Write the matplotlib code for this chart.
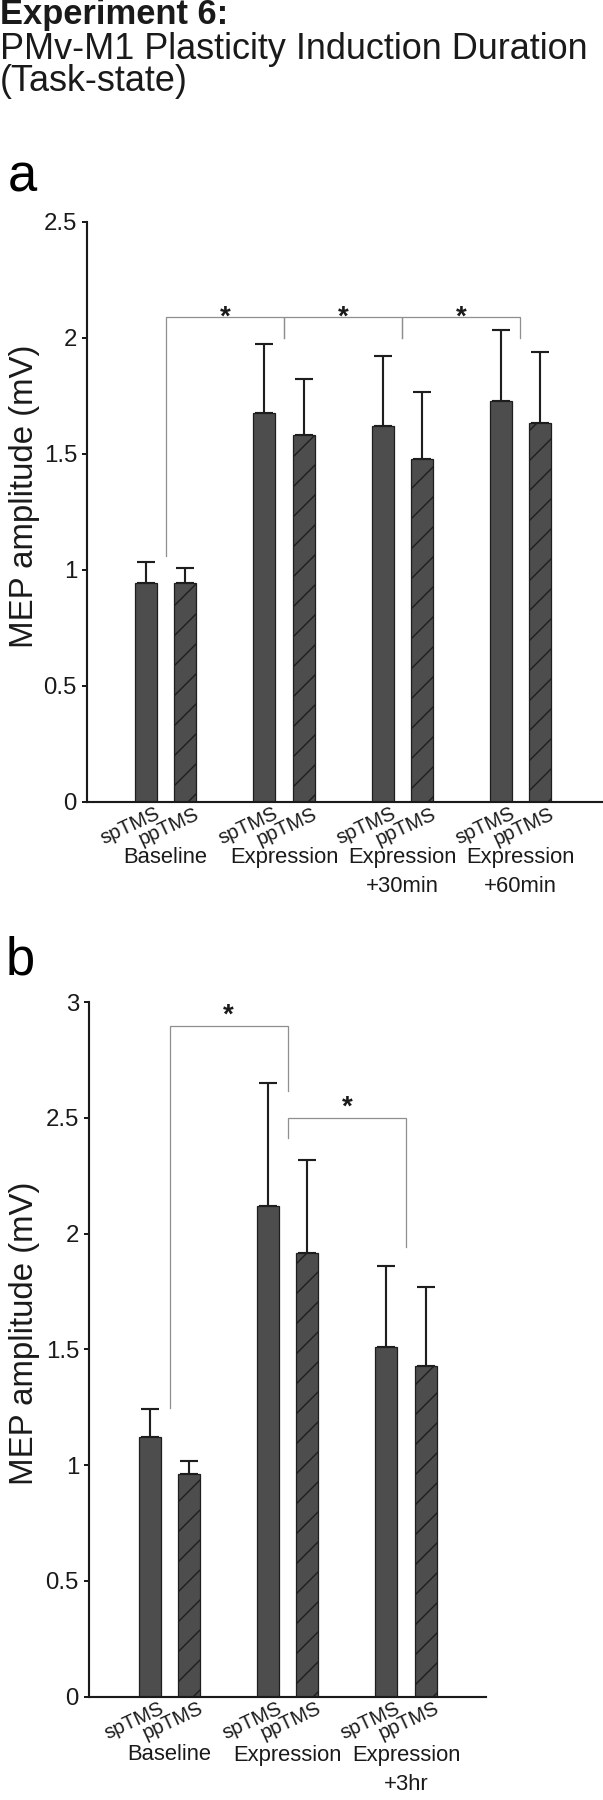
import matplotlib
matplotlib.use("Agg")
import matplotlib.pyplot as plt
import numpy as np
from matplotlib.ticker import FuncFormatter

plt.rcParams['font.family'] = ['Liberation Sans', 'DejaVu Sans']
plt.rcParams['hatch.linewidth'] = 0.55

# ---------------- data ----------------
groups_a = ["Baseline", "Expression", "Expression\n+30min", "Expression\n+60min"]
sp_a = [0.946, 1.677, 1.621, 1.729]
sp_err_a = [0.088, 0.297, 0.300, 0.307]
pp_a = [0.946, 1.584, 1.480, 1.634]
pp_err_a = [0.064, 0.240, 0.287, 0.305]

groups_b = ["Baseline", "Expression", "Expression\n+3hr"]
sp_b = [1.122, 2.117, 1.510]
sp_err_b = [0.122, 0.533, 0.349]
pp_b = [0.960, 1.917, 1.428]
pp_err_b = [0.057, 0.400, 0.339]

cond_labels = ["spTMS", "ppTMS"]
yticks_a = [0, 0.5, 1, 1.5, 2, 2.5]
yticks_b = [0, 0.5, 1, 1.5, 2, 2.5, 3]

# brackets: (x_start_group, x_end_group, y_top, y_left_end, y_right_end)
brackets_a = [(0, 1, 2.09, 1.06, 2.0), (1, 2, 2.09, 2.0, 2.0), (2, 3, 2.09, 2.0, 2.0)]
brackets_b = [(0, 1, 2.896, 1.245, 2.615), (1, 2, 2.5, 2.414, 1.94)]

# ---------------- figure ----------------
W, H, DPI = 603, 1800, 180
fig = plt.figure(figsize=(W / DPI, H / DPI), dpi=DPI)
PT = 72.0 / DPI  # points per pixel

BAR_COLOR = '#4d4d4d'
EDGE = '#1e1e1e'
BR_COLOR = '#8f8f8f'
OFF = 0.166
BW = 0.186


def panel(rect, xlim, ylim, yticks, groups, sp, sp_err, pp, pp_err, brackets,
          star_off_px, cat_off_px):
    ax = fig.add_axes(rect)
    x = np.arange(len(groups))
    ax.bar(x - OFF, sp, BW, color=BAR_COLOR, edgecolor=EDGE, linewidth=0.5, zorder=2)
    ax.bar(x + OFF, pp, BW, color=BAR_COLOR, edgecolor=EDGE, linewidth=0.5,
           hatch='//', zorder=2)
    for xs, v, e in ((x - OFF, sp, sp_err), (x + OFF, pp, pp_err)):
        ax.errorbar(xs, v, yerr=[np.zeros(len(v)), e], fmt='none', ecolor=EDGE,
                    elinewidth=0.85, capsize=3.6, capthick=0.85, zorder=1)
    ax.set_xlim(*xlim)
    ax.set_ylim(*ylim)
    ax.set_yticks(yticks)
    ax.yaxis.set_major_formatter(FuncFormatter(lambda v, p: '%g' % v))
    ax.tick_params(axis='y', direction='out', length=2.0, width=0.8, pad=2.0,
                   labelsize=9.6, colors='#1a1a1a')
    ax.set_xticks([])
    for s in ('top', 'right'):
        ax.spines[s].set_visible(False)
    for s in ('left', 'bottom'):
        ax.spines[s].set_linewidth(0.85)
        ax.spines[s].set_color('#1a1a1a')
    # condition labels
    for gi in range(len(groups)):
        for k, dx in enumerate((-OFF, OFF)):
            ax.annotate(cond_labels[k], xy=(gi + dx, 0), xytext=(15 * PT, -16 * PT),
                        textcoords='offset points', ha='right', va='baseline',
                        rotation=25, rotation_mode='anchor', fontsize=8.0,
                        color='#1a1a1a', annotation_clip=False)
        ax.annotate(groups[gi], xy=(gi, 0), xytext=(0, -cat_off_px * PT),
                    textcoords='offset points', ha='center', va='top',
                    multialignment='center', linespacing=1.5, fontsize=8.8,
                    color='#1a1a1a', annotation_clip=False)
    # significance brackets
    for g0, g1, yt, yl, yr in brackets:
        ax.plot([g0, g0, g1, g1], [yl, yt, yt, yr], color=BR_COLOR, lw=0.5,
                clip_on=False, zorder=3, solid_joinstyle='miter')
        ax.annotate('*', xy=((g0 + g1) / 2, yt), xytext=(0, star_off_px * PT),
                    textcoords='offset points', ha='center', va='baseline',
                    fontsize=11, fontweight='bold', color='#1a1a1a',
                    annotation_clip=False)
    return ax


ax_a = panel([87 / W, 1 - 802 / H, 516 / W, 580 / H], (-0.666, 3.698), (0, 2.5),
             yticks_a, groups_a, sp_a, sp_err_a, pp_a, pp_err_a, brackets_a,
             star_off_px=-8, cat_off_px=45)
ax_b = panel([89 / W, 1 - 1696.5 / H, 397 / W, 694.5 / H], (-0.681, 2.677), (0, 3),
             yticks_b, groups_b, sp_b, sp_err_b, pp_b, pp_err_b, brackets_b,
             star_off_px=3, cat_off_px=48)

# y labels
fig.text(25 / W, 1 - 496 / H, 'MEP amplitude (mV)', rotation=90, ha='center',
         va='center', fontsize=13.2, color='#1a1a1a')
fig.text(25 / W, 1 - 1333 / H, 'MEP amplitude (mV)', rotation=90, ha='center',
         va='center', fontsize=13.2, color='#1a1a1a')

# titles
fig.text(0, 1 - 24 / H, 'Experiment 6:', fontsize=13.8, fontweight='bold',
         ha='left', va='baseline', color='#1a1a1a')
fig.text(0, 1 - 59 / H, 'PMv-M1 Plasticity Induction Duration', fontsize=14.4,
         ha='left', va='baseline', color='#1a1a1a')
fig.text(0, 1 - 91 / H, '(Task-state)', fontsize=14.4, ha='left', va='baseline',
         color='#1a1a1a')
fig.text(8 / W, 1 - 192 / H, 'a', fontsize=21, ha='left', va='baseline', color='black')
fig.text(6 / W, 1 - 975 / H, 'b', fontsize=21, ha='left', va='baseline', color='black')

fig.savefig('out.png', dpi=DPI, facecolor='white')
